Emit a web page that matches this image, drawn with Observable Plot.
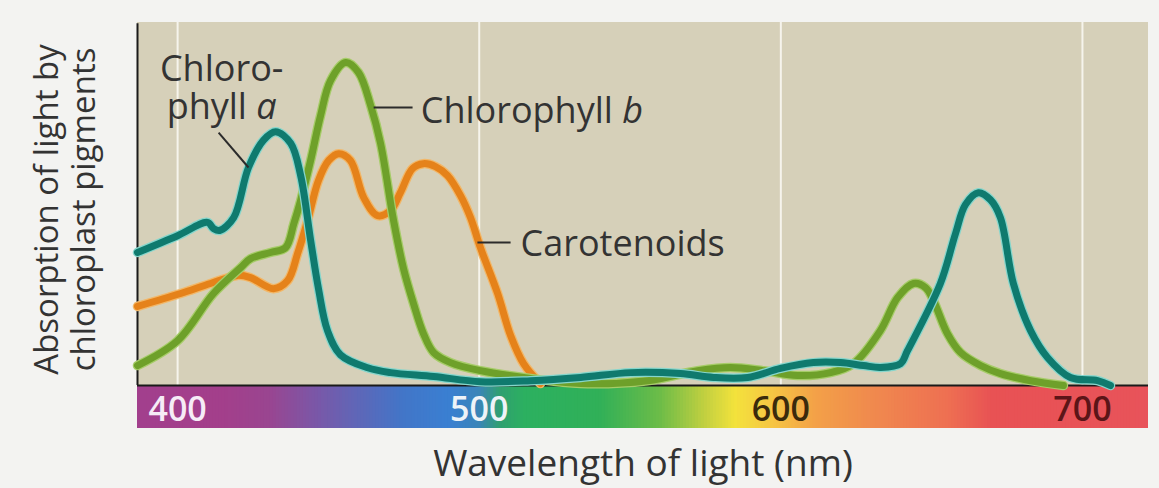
<!DOCTYPE html>
<html><head><meta charset="utf-8">
<script src="https://cdn.jsdelivr.net/npm/d3@7"></script>
<script src="https://cdn.jsdelivr.net/npm/@observablehq/plot@0.6"></script>
<style>
html,body{margin:0;padding:0;background:#f3f3f1;}
#chart{width:1159px;height:488px;}
svg{display:block;}
</style></head><body><div id="chart"></div>
<script>
// ---- data (wavelength nm, relative absorption) ----
const chlA_nm  = [386.7,400,409.9,411.9,413.9,418.6,423.5,428.5,432.5,437.5,440.8,444.1,446.7,449.7,454.0,463.0,470.6,484.9,500.4,517.0,533.6,550.2,566.7,577.7,589.0,599.9,610.8,619.8,627.4,633.0,639.7,642.0,652.9,657.9,661.2,665.5,669.5,672.8,677.1,682.8,688.4,696.0,705.0,709.3];
const chlA_abs = [0.412,0.464,0.505,0.486,0.480,0.520,0.675,0.760,0.786,0.750,0.650,0.450,0.300,0.170,0.095,0.055,0.040,0.028,0.012,0.015,0.025,0.040,0.037,0.025,0.025,0.053,0.071,0.071,0.062,0.056,0.068,0.108,0.316,0.470,0.560,0.597,0.575,0.520,0.316,0.170,0.087,0.025,0.015,0.0];

const chlB_nm  = [386.7,400,411.9,420.9,424.2,430.8,435.8,438.5,440.8,444.1,447.4,450.7,455.7,460.0,464.0,467.3,471.6,474.9,478.2,481.5,484.9,490.5,500.4,517.0,533.6,555.8,572.4,583.3,594.3,605.5,616.5,624.1,633.0,638.7,644.0,648.0,650.6,655.2,659.6,666.2,672.8,682.8,693.7];
const chlB_abs = [0.062,0.139,0.285,0.365,0.393,0.412,0.427,0.500,0.573,0.697,0.836,0.944,1.000,0.969,0.867,0.749,0.511,0.362,0.254,0.161,0.102,0.071,0.046,0.022,0.006,0.015,0.046,0.056,0.046,0.031,0.040,0.068,0.170,0.272,0.316,0.303,0.263,0.161,0.102,0.062,0.037,0.015,0.0];

const car_nm  = [386.7,401.0,410.9,419.9,424.2,431.8,436.5,439.8,443.1,446.7,450.1,453.4,457.3,461.7,466.3,470.6,473.9,477.9,481.5,485.5,489.5,493.8,497.1,500.4,506.1,510.4,514.7,520.3];
const car_abs = [0.245,0.285,0.316,0.341,0.334,0.300,0.325,0.409,0.511,0.635,0.697,0.718,0.697,0.582,0.526,0.542,0.598,0.672,0.687,0.678,0.650,0.588,0.520,0.427,0.285,0.155,0.068,0.006];

const seriesNames  = ["Carotenoids", "Chlorophyll b", "Chlorophyll a"];
const seriesColors = ["#e5821a", "#6ea02a", "#0f7a6e"];
const haloColors   = ["#f2b768", "#a6cc68", "#86d6cc"];

const tickValues = [400, 500, 600, 700];
const tickLabels = ["400", "500", "600", "700"];
const tickColors = ["#f6ecf6", "#eef3f8", "#3b2a0c", "#5c1518"];

const spectrumNm     = [386.7, 415, 430, 445, 460, 475, 490, 500, 507, 515, 540, 560, 575, 585, 598, 612, 630, 655, 670, 722];
const spectrumColors = ["#a23f8d","#a33f8b","#9a4590","#7c56a6","#5e67b8","#4276c8","#3a7fd2","#3a84b8","#30a070","#2cb060","#30b058","#6cbc48","#c2d040","#f3e23c","#f6c444","#f3a048","#f08a4e","#ee7052","#e85254","#e8535a"];

const labelTexts = ["Chloro-\nphyll a", "Chlorophyll b", "Carotenoids"];
const labelNm    = [414.6, 480.6, 513.7];
const labelAbs   = [1.028, 0.898, 0.486];
const labelAnchors = ["middle", "start", "start"];

const leaderNm1  = [413.6, 465.0, 499.4];
const leaderAbs1 = [0.783, 0.861, 0.443];
const leaderNm2  = [423.5, 477.9, 510.4];
const leaderAbs2 = [0.675, 0.861, 0.443];

const xTitle = "Wavelength of light (nm)";
const yTitle = "Absorption of light by\nchloroplast pigments";

const xDomain = [386.7, 721.9];
const absTop = 1.124;
const barBottom = -0.133;

// ---- build tables ----
const seriesData = [
  {nm: car_nm, abs: car_abs},
  {nm: chlB_nm, abs: chlB_abs},
  {nm: chlA_nm, abs: chlA_abs}
].map((s, i) => s.nm.map((nm, j) => ({nm, abs: s.abs[j], series: seriesNames[i]})));

const bins = d3.range(xDomain[0], xDomain[1], 1);
const labels = labelTexts.map((t, i) => ({text: t, nm: labelNm[i], abs: labelAbs[i], anchor: labelAnchors[i]}));
const leaders = leaderNm1.map((v, i) => ({x1: v, y1: leaderAbs1[i], x2: leaderNm2[i], y2: leaderAbs2[i]}));

const font = "Open Sans";
const marks = [
  Plot.rect([0], {x1: () => xDomain[0], x2: () => xDomain[1], y1: () => 0, y2: () => absTop, fill: "#d6d0b9"}),
  Plot.ruleX(tickValues, {x: d => d, y1: () => 0, y2: () => absTop, stroke: "#f6f4ec", strokeWidth: 2}),
  Plot.rect(bins, {x1: d => d, x2: d => Math.min(d + 1.3, xDomain[1]), y1: () => barBottom, y2: () => 0, fill: d => d + 0.5}),
  Plot.ruleY([0], {x1: () => xDomain[0], x2: () => xDomain[1], stroke: "#1a1a1a", strokeWidth: 2}),
  Plot.ruleX([xDomain[0]], {x: d => d, y1: () => 0, y2: () => absTop - 0.004, stroke: "#1a1a1a", strokeWidth: 2})
];
seriesData.forEach((rows, i) => {
  marks.push(Plot.line(rows, {x: "nm", y: "abs", stroke: haloColors[i], strokeWidth: 9.5, curve: "catmull-rom"}));
  marks.push(Plot.line(rows, {x: "nm", y: "abs", stroke: seriesColors[i], strokeWidth: 7, curve: "catmull-rom"}));
});
marks.push(Plot.link(leaders, {x1: "x1", y1: "y1", x2: "x2", y2: "y2", stroke: "#2b2b2b", strokeWidth: 2}));
["middle", "start"].forEach(a => {
  marks.push(Plot.text(labels.filter(d => d.anchor === a), {
    x: "nm", y: "abs", text: "text", textAnchor: a, lineAnchor: "top", lineHeight: 1.06,
    fontSize: 36, fontFamily: font, fill: "#333"
  }));
});
tickValues.forEach((v, i) => {
  marks.push(Plot.text([v], {
    x: d => d, y: () => barBottom / 2, text: () => tickLabels[i], fill: tickColors[i],
    fontSize: 34, fontWeight: 600, fontFamily: font, lineAnchor: "middle", dy: 3
  }));
});
marks.push(Plot.text([xTitle], {text: d => d, frameAnchor: "bottom", lineAnchor: "top", dy: 21, fontSize: 37, fontFamily: font, fill: "#333"}));
marks.push(Plot.text([yTitle], {text: d => d, frameAnchor: "left", rotate: -90, textAnchor: "middle", lineAnchor: "middle", lineHeight: 1.12, dx: -73, dy: -16, fontSize: 33, fontFamily: font, fill: "#333"}));

const chart = Plot.plot({
  width: 1159, height: 488,
  marginLeft: 137, marginRight: 11, marginTop: 22, marginBottom: 60,
  x: {domain: xDomain, axis: null},
  y: {domain: [barBottom, absTop], axis: null},
  color: {type: "linear", domain: spectrumNm, range: spectrumColors, interpolate: "rgb"},
  style: {background: "#f3f3f1", fontFamily: font},
  marks
});

// italic a / b in pigment labels (sibling tspan continues the same line)
chart.querySelectorAll("text, tspan").forEach(node => {
  if (node.childNodes.length === 1 && node.firstChild.nodeType === 3) {
    const m = node.firstChild.data.match(/^(.*phyll )([ab])$/);
    if (m) {
      node.firstChild.data = m[1];
      const t = document.createElementNS("http://www.w3.org/2000/svg", "tspan");
      t.setAttribute("font-style", "italic");
      t.textContent = m[2];
      if (node.tagName.toLowerCase() === "tspan") node.after(t); else node.appendChild(t);
    }
  }
});
document.getElementById("chart").appendChild(chart);
</script></body></html>
